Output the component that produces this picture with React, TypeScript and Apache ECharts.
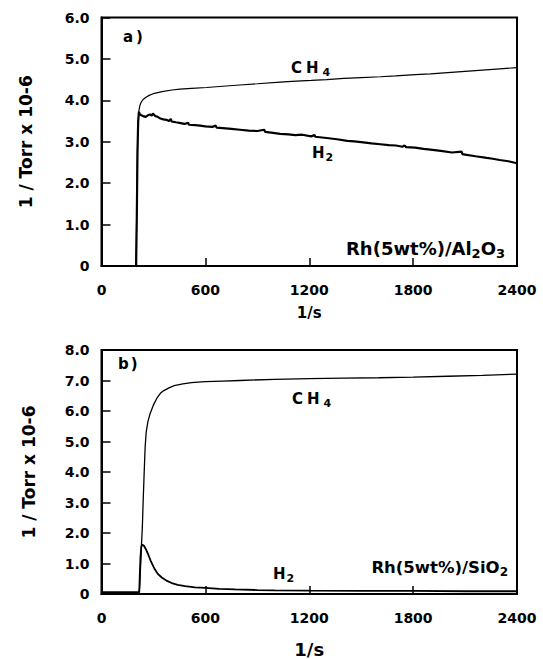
import React, { useEffect, useRef } from "react";
import * as echarts from "echarts";

// Time axis (s) and tick values
const timeTicks = [0, 600, 1200, 1800, 2400];
const yTicksTop = [0, 1, 2, 3, 4, 5, 6];
const yTicksBottom = [0, 1, 2, 3, 4, 5, 6, 7, 8];

// Panel a) Rh(5wt%)/Al2O3 — [time s, 1/Torr x 10-6]
const al2o3CH4: [number, number][] = [
  [0, 0], [150, 0], [198, 0], [201, 0.5], [204, 1.6], [207, 2.6], [210, 3.2],
  [213, 3.55], [216, 3.75], [222, 3.88], [230, 3.96], [240, 4.02], [255, 4.07],
  [275, 4.12], [306, 4.17], [350, 4.21], [407, 4.25], [453, 4.27], [520, 4.29],
  [608, 4.31], [700, 4.34], [800, 4.37], [900, 4.4], [1032, 4.44], [1100, 4.46],
  [1211, 4.48], [1300, 4.5], [1400, 4.53], [1500, 4.55], [1610, 4.57], [1700, 4.59],
  [1812, 4.62], [1900, 4.64], [2000, 4.67], [2100, 4.7], [2200, 4.73], [2300, 4.76],
  [2400, 4.79],
];

const al2o3H2: [number, number][] = [
  [0, 0], [150, 0], [200, 0], [204, 1.2], [208, 2.8], [212, 3.5], [216, 3.72],
  [222, 3.66], [230, 3.64], [240, 3.62], [256, 3.6], [268, 3.64], [280, 3.66],
  [290, 3.63], [297, 3.68], [310, 3.62], [325, 3.6], [340, 3.56], [357, 3.54],
  [375, 3.53], [390, 3.5], [400, 3.55], [405, 3.49], [430, 3.47], [457, 3.45],
  [480, 3.43], [500, 3.46], [505, 3.41], [540, 3.4], [570, 3.39], [600, 3.37],
  [640, 3.36], [660, 3.39], [665, 3.34], [700, 3.33], [750, 3.31], [800, 3.29],
  [850, 3.27], [900, 3.26], [940, 3.29], [945, 3.24], [980, 3.22], [1032, 3.19],
  [1080, 3.18], [1120, 3.16], [1160, 3.17], [1211, 3.13], [1230, 3.16], [1235, 3.12],
  [1300, 3.09], [1360, 3.06], [1420, 3.02], [1460, 3.01], [1500, 2.99], [1560, 2.96],
  [1610, 2.94], [1660, 2.92], [1700, 2.91], [1740, 2.88], [1750, 2.91], [1760, 2.87],
  [1812, 2.86], [1860, 2.83], [1900, 2.81], [1960, 2.78], [2024, 2.74], [2080, 2.76],
  [2085, 2.7], [2100, 2.69], [2160, 2.65], [2225, 2.61], [2260, 2.59], [2300, 2.56],
  [2350, 2.53], [2400, 2.48],
];

// Panel b) Rh(5wt%)/SiO2
const sio2CH4: [number, number][] = [
  [0, 0.04], [215, 0.04], [220, 0.2], [225, 0.8], [230, 1.5], [236, 2.2], [241, 3.1],
  [246, 3.9], [252, 4.8], [258, 5.3], [268, 5.65], [280, 5.9], [300, 6.2], [320, 6.42],
  [340, 6.58], [360, 6.67], [390, 6.76], [420, 6.83], [470, 6.89], [520, 6.93],
  [600, 6.96], [700, 6.98], [800, 7.0], [1000, 7.04], [1200, 7.06], [1400, 7.08],
  [1600, 7.09], [1800, 7.11], [2000, 7.14], [2200, 7.17], [2400, 7.21],
];

const sio2H2: [number, number][] = [
  [0, 0.06], [100, 0.06], [200, 0.06], [218, 0.06], [221, 0.6], [225, 1.2], [230, 1.55],
  [236, 1.62], [245, 1.58], [258, 1.45], [271, 1.28], [285, 1.08], [300, 0.9], [309, 0.8],
  [325, 0.66], [348, 0.54], [375, 0.44], [406, 0.36], [440, 0.3], [483, 0.26], [540, 0.22],
  [600, 0.2], [680, 0.17], [772, 0.15], [900, 0.13], [1000, 0.12], [1200, 0.11],
  [1500, 0.1], [1800, 0.1], [2100, 0.09], [2400, 0.09],
];

const FONT = "DejaVu Sans";

let measureCtx: CanvasRenderingContext2D | null = null;
function textWidth(s: string, size: number) {
  if (!measureCtx) measureCtx = document.createElement("canvas").getContext("2d");
  if (!measureCtx) return s.length * size * 0.65;
  measureCtx.font = `bold ${size}px "${FONT}"`;
  return measureCtx.measureText(s).width;
}

// Label laid out as a row of text pieces, subscripts dropped below the baseline
type Part = { t: string; sub?: boolean; gap?: number };
function subLabel(
  parts: Part[],
  x: number,
  y: number,
  size: number,
  align: "left" | "right" = "left"
) {
  const subSize = Math.round(size * 0.72);
  const drop = size * 0.3;
  const widths = parts.map((p) => textWidth(p.t, p.sub ? subSize : size) + (p.gap || 0));
  const total = widths.reduce((a, b) => a + b, 0);
  let cx = align === "right" ? x - total : x;
  const children = parts.map((p, i) => {
    const el = {
      type: "text",
      x: cx,
      y: p.sub ? y + drop : y,
      silent: true,
      style: {
        text: p.t,
        fontSize: p.sub ? subSize : size,
        fontWeight: "bold",
        fontFamily: FONT,
        fill: "#000",
        align: "left",
        verticalAlign: "middle",
      },
    };
    cx += widths[i];
    return el;
  });
  return { type: "group", silent: true, children };
}

const tickLabel = {
  color: "#000",
  fontFamily: FONT,
  fontWeight: "bold" as const,
  fontSize: 14,
};

function yFmt(v: number) {
  return v === 0 ? "0" : v.toFixed(1);
}

export default function App() {
  const ref = useRef<HTMLDivElement>(null);

  useEffect(() => {
    if (!ref.current) return;
    const chart = echarts.init(ref.current, undefined, { renderer: "svg" });

    const grids = [
      { left: 101.5, top: 17.5, width: 415.5, height: 248.5 },
      { left: 101.5, top: 350, width: 415.5, height: 246 },
    ].map((g) => ({
      ...g,
      show: true,
      borderColor: "#000",
      borderWidth: 2,
      backgroundColor: "transparent",
      containLabel: false,
    }));

    const xAxis = [0, 1].map((i) => ({
      type: "value",
      gridIndex: i,
      min: timeTicks[0],
      max: timeTicks[timeTicks.length - 1],
      interval: timeTicks[1] - timeTicks[0],
      name: "1/s",
      nameLocation: "middle",
      nameGap: i === 0 ? 39 : 46,
      nameTextStyle: {
        color: "#000",
        fontFamily: FONT,
        fontWeight: "bold",
        fontSize: i === 0 ? 15 : 18,
      },
      axisLine: { show: true, lineStyle: { color: "#000", width: 2 } },
      axisTick: { show: true, inside: true, length: 8, lineStyle: { color: "#000", width: 1.5 } },
      axisLabel: { ...tickLabel, margin: 17, formatter: (v: number) => String(v) },
      splitLine: { show: false },
    }));

    const yAxis = [0, 1].map((i) => {
      const ticks = i === 0 ? yTicksTop : yTicksBottom;
      return {
        type: "value",
        gridIndex: i,
        min: ticks[0],
        max: ticks[ticks.length - 1],
        interval: ticks[1] - ticks[0],
        name: "1 / Torr x 10-6",
        nameLocation: "middle",
        nameRotate: 90,
        nameGap: i === 0 ? 67 : 64,
        nameTextStyle: {
          color: "#000",
          fontFamily: FONT,
          fontWeight: "bold",
          fontSize: 17,
        },
        axisLine: { show: true, lineStyle: { color: "#000", width: 2 } },
        axisTick: { show: true, inside: true, length: 9, lineStyle: { color: "#000", width: 1.5 } },
        axisLabel: { ...tickLabel, margin: 12, formatter: yFmt },
        splitLine: { show: false },
      };
    });

    const line = (data: [number, number][], idx: number, width: number) => ({
      type: "line",
      xAxisIndex: idx,
      yAxisIndex: idx,
      data,
      showSymbol: false,
      symbol: "none",
      smooth: false,
      lineStyle: { color: "#000", width },
      silent: true,
    });

    chart.setOption({
      animation: false,
      backgroundColor: "#fff",
      grid: grids,
      xAxis,
      yAxis,
      series: [
        line(al2o3CH4, 0, 1.2),
        line(al2o3H2, 0, 2.2),
        line(sio2CH4, 1, 1.3),
        line(sio2H2, 1, 1.8),
      ],
      graphic: [
        subLabel([{ t: "a", gap: 3 }, { t: ")" }], 123, 37, 15),
        subLabel([{ t: "C", gap: 4 }, { t: "H", gap: 4 }, { t: "4", sub: true }], 291, 68, 15),
        subLabel([{ t: "H", gap: 1 }, { t: "2", sub: true }], 312, 153, 15),
        subLabel(
          [{ t: "Rh(5wt%)/Al" }, { t: "2", sub: true }, { t: "O" }, { t: "3", sub: true }],
          505,
          248,
          18,
          "right"
        ),
        subLabel([{ t: "b", gap: 2 }, { t: ")" }], 118, 364, 15),
        subLabel([{ t: "C", gap: 4 }, { t: "H", gap: 4 }, { t: "4", sub: true }], 292, 399, 15),
        subLabel([{ t: "H", gap: 1 }, { t: "2", sub: true }], 273, 574, 15),
        subLabel([{ t: "Rh(5wt%)/SiO" }, { t: "2", sub: true }], 508, 567, 16.5, "right"),
      ],
    });

    return () => chart.dispose();
  }, []);

  return (
    <div
      ref={ref}
      style={{ position: "fixed", left: 0, top: 0, width: 543, height: 659, background: "#fff" }}
    />
  );
}
